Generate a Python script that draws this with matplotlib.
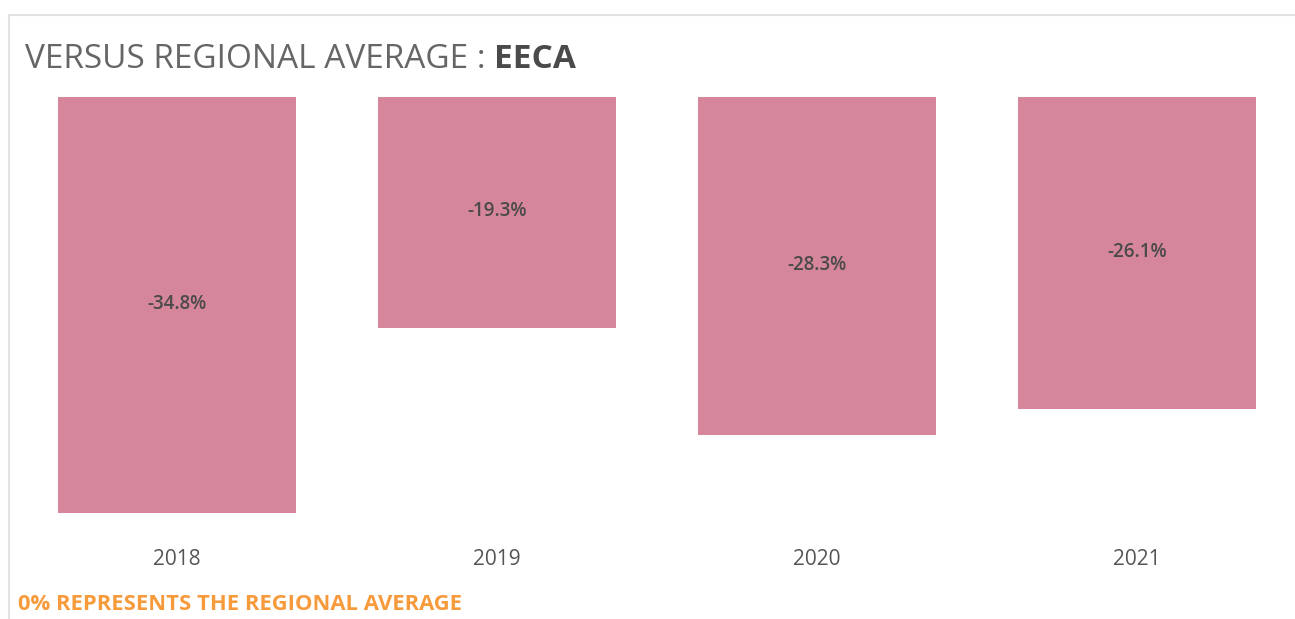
import numpy as np
import matplotlib
matplotlib.use('agg')
import matplotlib.pyplot as plt
from matplotlib.lines import Line2D

# data
years  = ['2018', '2019', '2020', '2021']
values = [-34.8, -19.3, -28.3, -26.1]
region = 'EECA'

W, H = 1295, 619
bar_color = '#D5869A'
text_gray = '#555555'

plt.rcParams['font.family'] = ['Open Sans', 'DejaVu Sans']

fig = plt.figure(figsize=(W/100, H/100), dpi=100)
fig.patch.set_facecolor('white')

# axes placed in pixel terms: zero line at y=97, 11.95 px per %
x0, x1 = 17, 1295
ytop, ybot = 97, 535
ax = fig.add_axes([x0/W, 1 - ybot/H, (x1-x0)/W, (ybot-ytop)/H])
ax.set_xlim(-0.5, -0.5 + (x1-x0)/320)
ax.set_ylim(-(ybot-ytop)/11.95, 0)

xs = np.arange(len(years))
bars = ax.bar(xs, values, width=238/320, color=bar_color, edgecolor='none')
for b, v in zip(bars, values):
    ax.text(b.get_x() + b.get_width()/2, v/2 + 0.1, f'{v:.1f}%',
            ha='center', va='center', fontsize=13.5, fontweight='semibold', color='#4a4a4a')

ax.set_xticks(xs)
ax.set_xticklabels(years, fontsize=15, color=text_gray)
ax.tick_params(axis='x', length=0, pad=10)
ax.set_yticks([])
for s in ax.spines.values():
    s.set_visible(False)

# panel frame (top and left only)
fig.add_artist(Line2D([9/W, 1], [1 - 15/H, 1 - 15/H], color='#e2e2e2', lw=1.5))
fig.add_artist(Line2D([9/W, 9/W], [0, 1 - 15/H], color='#e2e2e2', lw=1.5))

# title, light part + bold part
t1 = fig.text(25/W, 1 - 60/H, 'VERSUS REGIONAL AVERAGE : ', fontsize=24, fontweight='normal',
              color='#666666', va='center', ha='left')
fig.canvas.draw()
bb = t1.get_window_extent()
fig.text(bb.x1/W, 1 - 60/H, region, fontsize=24, fontweight='bold',
         color='#4a4a4a', va='center', ha='left')

fig.text(18/W, 1 - 604/H, '0% REPRESENTS THE REGIONAL AVERAGE', fontsize=15.8,
         fontweight='bold', color='#F79A3B', va='center', ha='left')

fig.savefig('out.png', dpi=100)
